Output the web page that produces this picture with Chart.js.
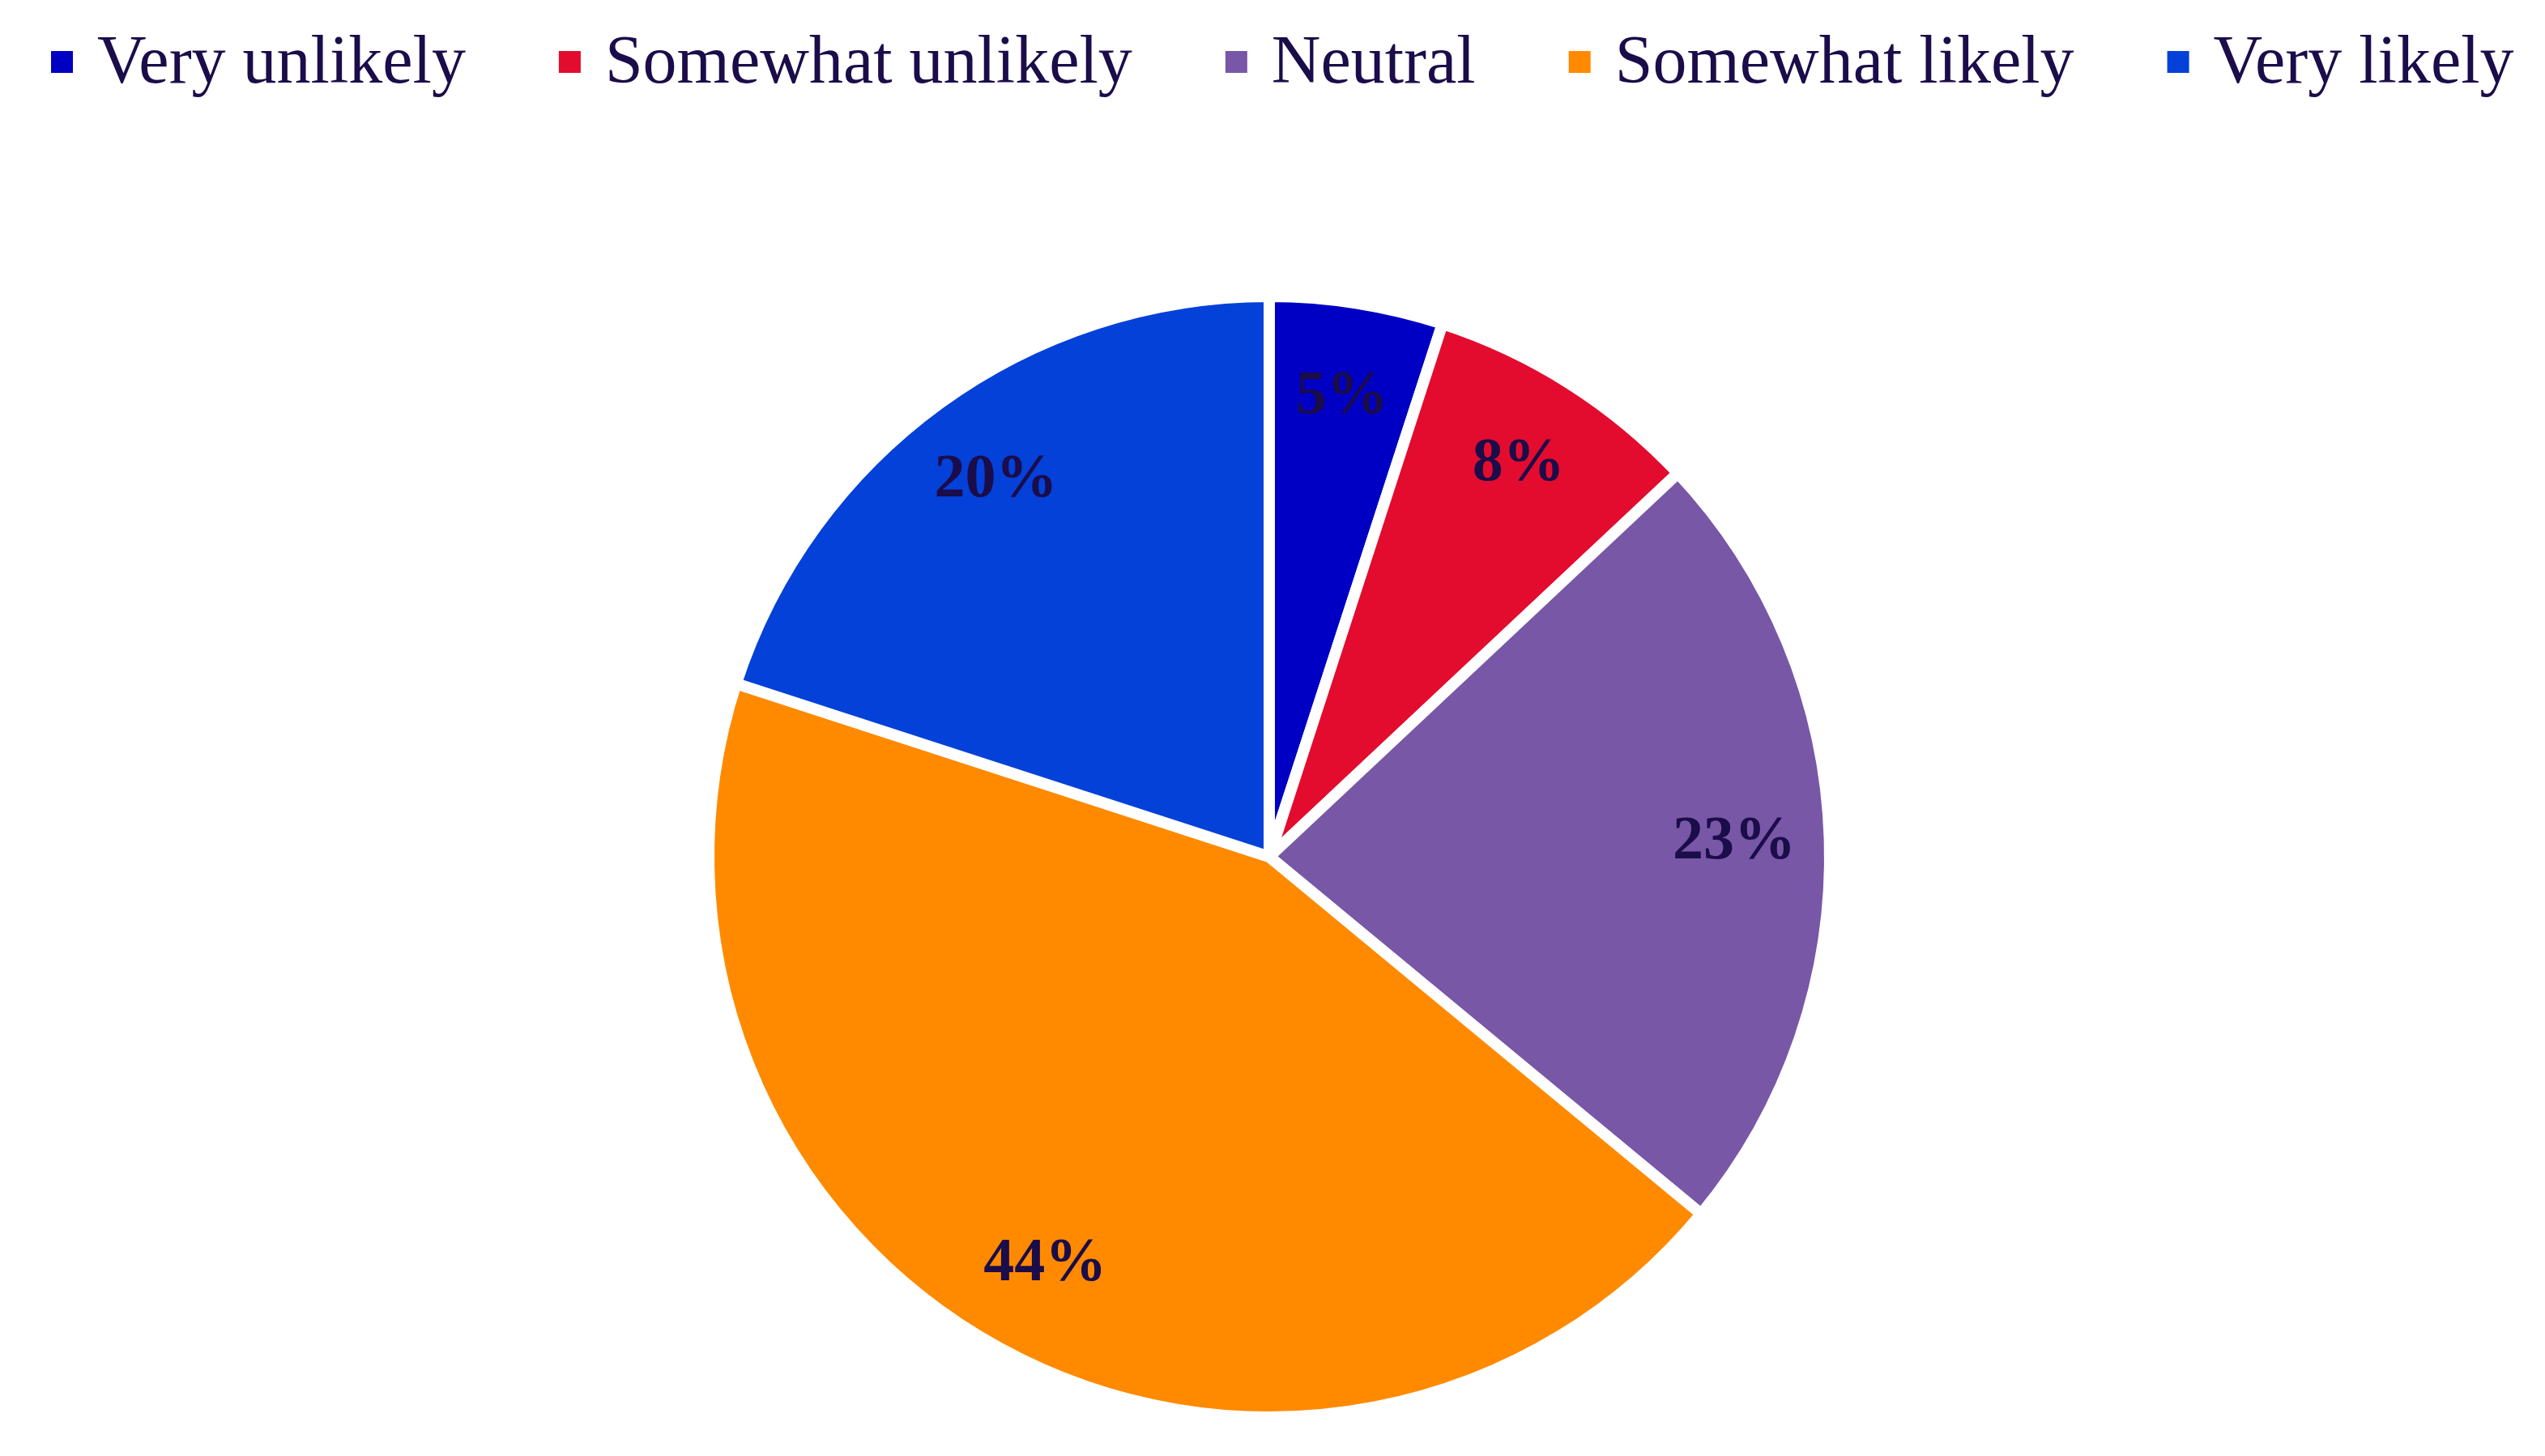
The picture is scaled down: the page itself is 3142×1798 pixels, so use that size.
<!DOCTYPE html>
<html>
<head>
<meta charset="utf-8">
<title>Likelihood</title>
<script src="https://cdn.jsdelivr.net/npm/chart.js@4.4.1/dist/chart.umd.min.js"></script>
<style>
  html, body { margin: 0; padding: 0; background: #ffffff; }
  #wrap { width: 3142px; height: 1798px; position: relative; }
</style>
</head>
<body>
<div id="wrap"><canvas id="pie-chart"></canvas></div>
<script>
(function() {
  const labels = ['Very unlikely', 'Somewhat unlikely', 'Neutral', 'Somewhat likely', 'Very likely'];
  const shares = [5, 8, 23, 44, 20];
  const colors = ['#0000c4', '#e30c2e', '#7857a7', '#ff8a00', '#0341d8'];
  const TEXT_COLOR = '#1b0c4a';
  const SERIF = '"Liberation Serif", "Times New Roman", serif';

  // Legend row across the top (Excel style: small square + text)
  const legendRow = {
    id: 'legendRow',
    afterDraw(chart) {
      const ctx = chart.ctx;
      const box = 27, gap = 30, spacing = 115;
      let x = 63;
      ctx.save();
      ctx.font = `84px ${SERIF}`;
      ctx.textAlign = 'left';
      ctx.textBaseline = 'alphabetic';
      labels.forEach((text, i) => {
        ctx.fillStyle = colors[i];
        ctx.fillRect(x, 63, box, box);
        ctx.fillStyle = TEXT_COLOR;
        ctx.fillText(text, x + box + gap, 102);
        x += box + gap + ctx.measureText(text).width + spacing;
      });
      ctx.restore();
    }
  };

  // Percent labels inside each slice
  const sliceLabels = {
    id: 'sliceLabels',
    afterDatasetsDraw(chart) {
      const ctx = chart.ctx;
      const meta = chart.getDatasetMeta(0);
      ctx.save();
      ctx.font = `bold 76px ${SERIF}`;
      ctx.fillStyle = TEXT_COLOR;
      ctx.textAlign = 'center';
      ctx.textBaseline = 'middle';
      meta.data.forEach((arc, i) => {
        const p = arc.getProps(['x', 'y', 'startAngle', 'endAngle', 'outerRadius'], true);
        const mid = (p.startAngle + p.endAngle) / 2;
        const r = p.outerRadius * 0.83;
        ctx.fillText(`${shares[i]}%`, p.x + Math.cos(mid) * r, p.y + Math.sin(mid) * r);
      });
      ctx.restore();
    }
  };

  const ctx = document.getElementById('pie-chart').getContext('2d');
  new Chart(ctx, {
    type: 'pie',
    data: {
      labels: labels,
      datasets: [{
        data: shares,
        backgroundColor: colors,
        borderColor: '#ffffff',
        borderWidth: 14,
        hoverOffset: 0
      }]
    },
    options: {
      responsive: true,
      maintainAspectRatio: false,
      animation: false,
      layout: {
        padding: { top: 359, bottom: 41, left: 0, right: 8 }
      },
      plugins: {
        legend: { display: false },
        tooltip: { enabled: false }
      }
    },
    plugins: [sliceLabels, legendRow]
  });
})();
</script>
</body>
</html>
